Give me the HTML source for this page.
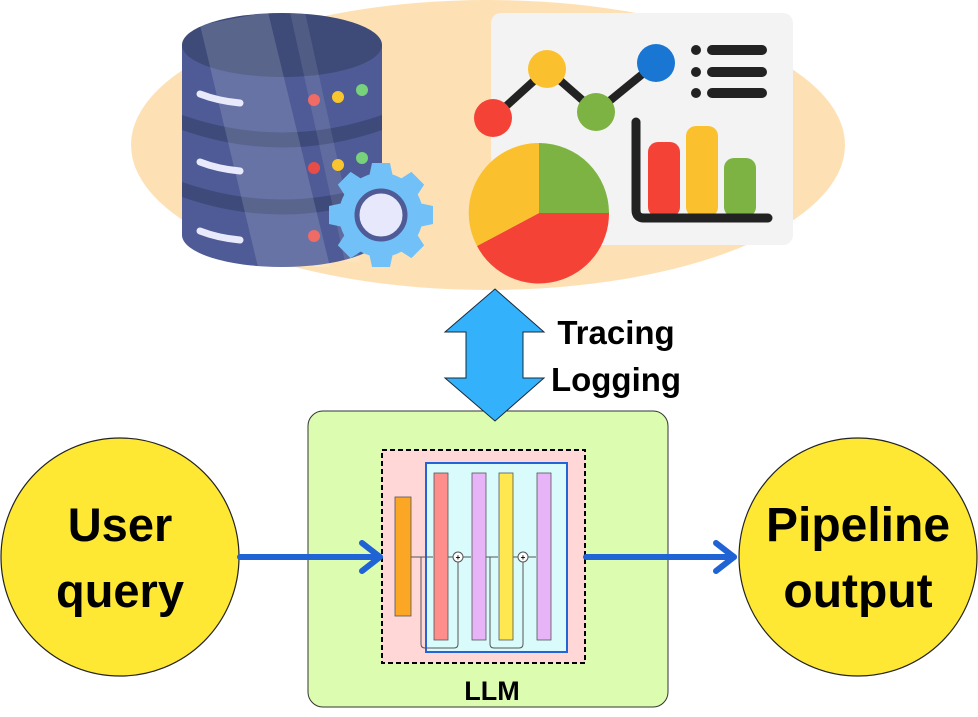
<!DOCTYPE html>
<html><head><meta charset="utf-8"><style>
html,body{margin:0;padding:0;background:#fff;}
svg{display:block;}
text{font-family:"Liberation Sans",sans-serif;font-weight:bold;fill:#000;}
</style></head><body>
<svg width="978" height="717" viewBox="0 0 978 717" xmlns="http://www.w3.org/2000/svg">
<ellipse cx="488" cy="145" rx="357" ry="145" fill="#fde1b5"/>
<g>
<rect x="182" y="45" width="200" height="190" fill="#4e5b96"/>
<ellipse cx="282" cy="235" rx="100" ry="32" fill="#4e5b96"/>
<path d="M182 115 Q282 150 382 115 L382 130 Q282 165 182 130Z" fill="#3d4a7a"/>
<path d="M182 182 Q282 217 382 182 L382 197 Q282 232 182 197Z" fill="#3d4a7a"/>
<ellipse cx="282" cy="45" rx="100" ry="32" fill="#3e4a78"/>
<path d="M200 25 L268 12 L330 267 L258 267Z" fill="#fff" opacity="0.15"/>
<path d="M290 12 L305 12 L360 262 L345 262Z" fill="#fff" opacity="0.1"/>
<g stroke="#e8eafc" stroke-width="7" stroke-linecap="round" fill="none">
<path d="M200 94 Q218 101 240 103"/><path d="M200 162 Q218 169 240 171"/><path d="M200 231 Q218 238 240 240"/>
</g>
<circle cx="314" cy="100" r="6" fill="#ee6b66"/><circle cx="338" cy="97" r="6" fill="#f9c52e"/><circle cx="362" cy="90" r="6" fill="#78d17b"/>
<circle cx="314" cy="168" r="6" fill="#e64c48"/><circle cx="338" cy="165" r="6" fill="#f9c52e"/><circle cx="362" cy="158" r="6" fill="#78d17b"/>
<circle cx="314" cy="236" r="6" fill="#ee6b66"/>
</g>
<g transform="translate(381,215)">
<g fill="#72c0f8">
<circle r="42"/>
<path d="M-9 -52 L9 -52 L12 -38 L-12 -38Z"/>
<path d="M-9 -52 L9 -52 L12 -38 L-12 -38Z" transform="rotate(45)"/>
<path d="M-9 -52 L9 -52 L12 -38 L-12 -38Z" transform="rotate(90)"/>
<path d="M-9 -52 L9 -52 L12 -38 L-12 -38Z" transform="rotate(135)"/>
<path d="M-9 -52 L9 -52 L12 -38 L-12 -38Z" transform="rotate(180)"/>
<path d="M-9 -52 L9 -52 L12 -38 L-12 -38Z" transform="rotate(225)"/>
<path d="M-9 -52 L9 -52 L12 -38 L-12 -38Z" transform="rotate(270)"/>
<path d="M-9 -52 L9 -52 L12 -38 L-12 -38Z" transform="rotate(315)"/>
</g>
<circle r="24" fill="#e8e8fc" stroke="#4e5b96" stroke-width="5"/>
</g>
<rect x="491" y="13" width="302" height="232" rx="10" fill="#f3f3f3"/>
<polyline points="493,118 547,69 596,112 656,63" fill="none" stroke="#222" stroke-width="8"/>
<ellipse cx="493" cy="118" rx="19" ry="19" fill="#f44336"/>
<ellipse cx="547" cy="69" rx="19" ry="19" fill="#fbc02d"/>
<ellipse cx="596" cy="112" rx="19" ry="19" fill="#7cb342"/>
<ellipse cx="656" cy="63" rx="19" ry="19" fill="#1976d2"/>
<g fill="#222"><circle cx="696" cy="50" r="5"/><circle cx="696" cy="72" r="5"/><circle cx="696" cy="93" r="5"/></g>
<g stroke="#222" stroke-width="10" stroke-linecap="round"><line x1="712" y1="50" x2="762" y2="50"/><line x1="712" y1="72" x2="762" y2="72"/><line x1="712" y1="93" x2="762" y2="93"/></g>
<rect x="648" y="142" width="32" height="75" rx="10" fill="#f44336"/>
<rect x="686" y="126" width="32" height="91" rx="10" fill="#fbc02d"/>
<rect x="724" y="158" width="32" height="59" rx="10" fill="#7cb342"/>
<path d="M636 122 L636 210 Q636 218 644 218 L768 218" fill="none" stroke="#222" stroke-width="9" stroke-linecap="round"/>
<path d="M539 213 L539 143 A70 70 0 0 1 609 213Z" fill="#7cb342"/>
<path d="M539 213 L609 213 A70 70 0 0 1 477 246Z" fill="#f44336"/>
<path d="M539 213 L477 246 A70 70 0 0 1 539 143Z" fill="#fbc02d"/>
<text x="616" y="344" font-size="33" text-anchor="middle">Tracing</text>
<text x="616" y="391" font-size="33" text-anchor="middle">Logging</text>
<rect x="308" y="411" width="360" height="296" rx="15" fill="#dcfdb0" stroke="#333" stroke-width="1"/>
<polygon points="495,289 544,332 523,332 523,378 544,378 495,421 445,378 466,378 466,332 445,332" fill="#33b1fb" stroke="#1a2a3a" stroke-width="1"/>
<text x="492" y="700" font-size="27" text-anchor="middle">LLM</text>
<rect x="382" y="450" width="203" height="213" fill="#fed7d6" stroke="#000" stroke-width="2" stroke-dasharray="5,3"/>
<rect x="426" y="463" width="141" height="189" fill="#dafbfc" stroke="#2564d6" stroke-width="2"/>
<rect x="395" y="497" width="16" height="119" fill="#fba625" stroke="#555" stroke-width="0.8"/>
<rect x="434" y="473" width="14" height="167" fill="#fe8e8c" stroke="#555" stroke-width="0.8"/>
<rect x="472" y="473" width="14" height="167" fill="#e8b4f8" stroke="#555" stroke-width="0.8"/>
<rect x="499" y="473" width="14" height="167" fill="#fee74f" stroke="#555" stroke-width="0.8"/>
<rect x="537" y="473" width="14" height="167" fill="#e8b4f8" stroke="#555" stroke-width="0.8"/>
<g stroke="#555" stroke-width="1" fill="none">
<line x1="411" y1="557" x2="433" y2="557"/><line x1="448" y1="557" x2="453" y2="557"/><line x1="463" y1="557" x2="471" y2="557"/>
<line x1="486" y1="557" x2="498" y2="557"/><line x1="513" y1="557" x2="518" y2="557"/><line x1="528" y1="557" x2="536" y2="557"/>
<path d="M421 557 L421 644 Q421 648 425 648 L454 648 Q458 648 458 644 L458 562"/>
<path d="M490 557 L490 644 Q490 648 494 648 L519 648 Q523 648 523 644 L523 562"/>
</g>
<circle cx="458" cy="557" r="5" fill="#fff" stroke="#555"/><circle cx="523" cy="557" r="5" fill="#fff" stroke="#555"/>
<text x="458" y="560" font-size="8" text-anchor="middle" font-weight="normal">+</text>
<text x="523" y="560" font-size="8" text-anchor="middle" font-weight="normal">+</text>
<circle cx="120" cy="557" r="119" fill="#fee834" stroke="#222" stroke-width="1.2"/>
<circle cx="858" cy="557" r="119" fill="#fee834" stroke="#222" stroke-width="1.2"/>
<text x="120" y="541" font-size="47" text-anchor="middle">User</text>
<text x="120" y="607" font-size="47" text-anchor="middle">query</text>
<text x="858" y="541" font-size="48" text-anchor="middle">Pipeline</text>
<text x="858" y="607" font-size="48" text-anchor="middle">output</text>
<g stroke="#1f63d4" stroke-width="6" fill="none" stroke-linecap="round" stroke-linejoin="round">
<line x1="240" y1="557" x2="380" y2="557"/><polyline points="362,543 380,557 362,571"/>
<line x1="586" y1="557" x2="734" y2="557"/><polyline points="716,543 734,557 716,571"/>
</g>
</svg>
</body></html>
